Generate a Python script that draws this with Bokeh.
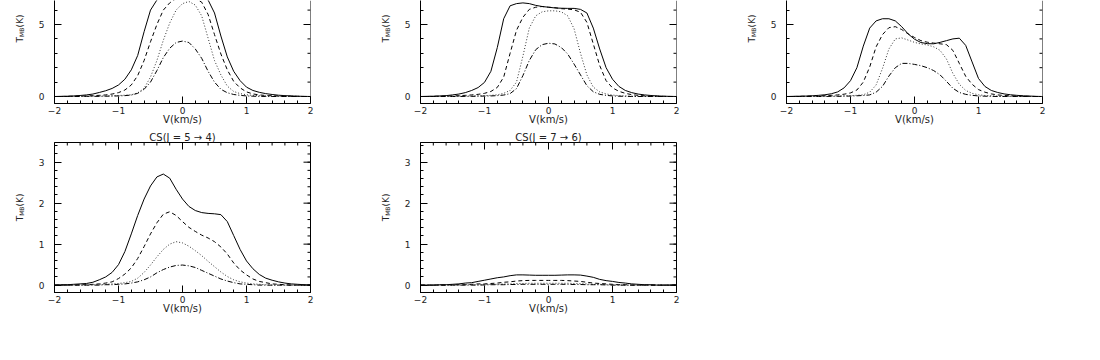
from math import pi
from bokeh.plotting import figure
from bokeh.layouts import column, row
from bokeh.models import FixedTicker, Range1d, Span
from bokeh.core.properties import value
from bokeh.embed import file_html
from bokeh.resources import INLINE

# ---------------- data ----------------
velocity = [-2.0, -1.9, -1.8, -1.7, -1.6, -1.5, -1.4, -1.3, -1.2, -1.1,
            -1.0, -0.9, -0.8, -0.7, -0.6, -0.5, -0.4, -0.3, -0.2, -0.1,
            0.0, 0.1, 0.2, 0.3, 0.4, 0.5, 0.6, 0.7, 0.8, 0.9,
            1.0, 1.1, 1.2, 1.3, 1.4, 1.5, 1.6, 1.7, 1.8, 1.9, 2.0]

# panel 1 (top left)
p1_solid = [0.0, 0.01, 0.02, 0.04, 0.07, 0.11, 0.17, 0.28, 0.4, 0.56,
            0.8, 1.2, 1.85, 2.85, 4.5, 6.0, 6.7, 7.0, 7.15, 7.2,
            7.2, 7.2, 7.15, 7.0, 6.7, 5.8, 4.2, 2.75, 1.75, 1.1,
            0.65, 0.42, 0.29, 0.2, 0.14, 0.09, 0.06, 0.04, 0.02, 0.01, 0.0]
p1_dashed = [0.0, 0.0, 0.01, 0.02, 0.03, 0.04, 0.06, 0.08, 0.11, 0.17,
             0.27, 0.45, 0.8, 1.45, 2.5, 3.8, 5.0, 6.0, 6.5, 6.8,
             6.9, 6.9, 6.8, 6.55, 5.7, 4.3, 2.95, 1.85, 1.05, 0.6,
             0.32, 0.18, 0.11, 0.07, 0.05, 0.04, 0.03, 0.02, 0.01, 0.0, 0.0]
p1_dotted = [0.0, 0.0, 0.0, 0.01, 0.01, 0.02, 0.02, 0.03, 0.04, 0.05,
             0.07, 0.09, 0.12, 0.25, 0.57, 1.35, 2.5, 3.9, 5.1, 6.0,
             6.45, 6.6, 6.35, 5.6, 4.05, 2.5, 1.5, 0.72, 0.35, 0.2,
             0.12, 0.08, 0.06, 0.05, 0.04, 0.03, 0.02, 0.02, 0.01, 0.0, 0.0]
p1_dashdot = [0.0, 0.0, 0.0, 0.0, 0.0, 0.01, 0.01, 0.01, 0.02, 0.03,
              0.04, 0.06, 0.1, 0.22, 0.5, 1.0, 1.8, 2.7, 3.35, 3.75,
              3.85, 3.75, 3.3, 2.65, 1.75, 1.0, 0.5, 0.26, 0.14, 0.08,
              0.04, 0.02, 0.01, 0.0, 0.0, 0.0, 0.0, 0.0, 0.0, 0.0, 0.0]

# panel 2 (top middle)
p2_solid = [0.0, 0.01, 0.02, 0.04, 0.06, 0.11, 0.17, 0.27, 0.42, 0.62,
            0.98, 1.75, 3.4, 5.4, 6.3, 6.45, 6.5, 6.45, 6.33, 6.25,
            6.2, 6.15, 6.13, 6.12, 6.12, 6.05, 5.8, 4.75, 3.3, 2.0,
            1.2, 0.7, 0.42, 0.27, 0.17, 0.11, 0.07, 0.04, 0.02, 0.01, 0.0]
p2_dashed = [0.0, 0.0, 0.01, 0.02, 0.03, 0.04, 0.06, 0.08, 0.11, 0.15,
             0.22, 0.35, 0.63, 1.35, 3.0, 4.6, 5.5, 6.05, 6.2, 6.25,
             6.2, 6.17, 6.1, 6.07, 6.02, 5.85, 5.15, 3.65, 2.15, 1.1,
             0.6, 0.36, 0.22, 0.13, 0.08, 0.05, 0.03, 0.02, 0.01, 0.0, 0.0]
p2_dotted = [0.0, 0.0, 0.0, 0.01, 0.01, 0.02, 0.02, 0.03, 0.04, 0.05,
             0.06, 0.08, 0.12, 0.22, 0.42, 1.0, 2.8, 4.75, 5.6, 5.88,
             5.95, 5.95, 5.88, 5.6, 4.7, 3.0, 1.5, 0.65, 0.32, 0.18,
             0.1, 0.06, 0.04, 0.03, 0.02, 0.02, 0.01, 0.0, 0.0, 0.0, 0.0]
p2_dashdot = [0.0, 0.0, 0.0, 0.0, 0.0, 0.0, 0.0, 0.01, 0.01, 0.02,
              0.03, 0.04, 0.06, 0.1, 0.2, 0.55, 1.45, 2.5, 3.25, 3.6,
              3.7, 3.65, 3.4, 2.95, 2.25, 1.5, 0.75, 0.33, 0.15, 0.08,
              0.04, 0.02, 0.01, 0.0, 0.0, 0.0, 0.0, 0.0, 0.0, 0.0, 0.0]

# panel 3 (top right)
p3_solid = [0.0, 0.01, 0.02, 0.03, 0.05, 0.08, 0.12, 0.19, 0.32, 0.6,
            1.1, 2.0, 3.5, 4.75, 5.25, 5.4, 5.4, 5.25, 4.85, 4.35,
            3.98, 3.75, 3.67, 3.66, 3.76, 3.88, 4.0, 4.05, 3.55, 2.4,
            1.25, 0.7, 0.42, 0.28, 0.18, 0.12, 0.08, 0.05, 0.03, 0.01, 0.0]
p3_dashed = [0.0, 0.0, 0.01, 0.02, 0.03, 0.04, 0.06, 0.08, 0.11, 0.16,
             0.25, 0.45, 1.0, 2.05, 3.45, 4.3, 4.78, 4.85, 4.65, 4.35,
             4.1, 3.88, 3.77, 3.71, 3.66, 3.6, 3.2, 2.3, 1.4, 0.85,
             0.48, 0.3, 0.18, 0.11, 0.07, 0.05, 0.03, 0.02, 0.01, 0.0, 0.0]
p3_dotted = [0.0, 0.0, 0.0, 0.01, 0.01, 0.02, 0.02, 0.03, 0.04, 0.05,
             0.06, 0.08, 0.12, 0.3, 0.8, 1.95, 3.3, 4.0, 4.07, 3.92,
             3.76, 3.65, 3.58, 3.45, 3.2, 2.6, 1.6, 0.85, 0.42, 0.22,
             0.12, 0.07, 0.05, 0.03, 0.02, 0.02, 0.01, 0.0, 0.0, 0.0, 0.0]
p3_dashdot = [0.0, 0.0, 0.0, 0.0, 0.0, 0.0, 0.0, 0.01, 0.01, 0.02,
              0.03, 0.05, 0.07, 0.11, 0.3, 0.7, 1.42, 2.0, 2.3, 2.3,
              2.23, 2.14, 2.0, 1.8, 1.5, 1.05, 0.57, 0.28, 0.15, 0.08,
              0.04, 0.02, 0.01, 0.0, 0.0, 0.0, 0.0, 0.0, 0.0, 0.0, 0.0]

# panel 4 (bottom left) CS(J = 5 -> 4)
p4_solid = [0.0, 0.01, 0.01, 0.02, 0.03, 0.04, 0.07, 0.13, 0.2, 0.31,
            0.5, 0.82, 1.25, 1.7, 2.1, 2.42, 2.64, 2.71, 2.61, 2.34,
            2.1, 1.92, 1.82, 1.77, 1.75, 1.74, 1.72, 1.55, 1.21, 0.87,
            0.59, 0.4, 0.26, 0.17, 0.12, 0.08, 0.05, 0.03, 0.02, 0.01, 0.0]
p4_dashed = [0.0, 0.0, 0.0, 0.0, 0.01, 0.01, 0.02, 0.03, 0.05, 0.08,
             0.16, 0.27, 0.42, 0.65, 0.94, 1.25, 1.52, 1.73, 1.79, 1.7,
             1.55, 1.41, 1.31, 1.22, 1.15, 1.06, 0.93, 0.76, 0.54, 0.37,
             0.25, 0.15, 0.09, 0.06, 0.03, 0.02, 0.01, 0.0, 0.0, 0.0, 0.0]
p4_dotted = [0.0, 0.0, 0.0, 0.0, 0.0, 0.0, 0.01, 0.01, 0.02, 0.03,
             0.04, 0.06, 0.09, 0.17, 0.31, 0.49, 0.69, 0.87, 1.0, 1.06,
             1.03, 0.95, 0.84, 0.72, 0.58, 0.45, 0.32, 0.21, 0.13, 0.08,
             0.05, 0.03, 0.02, 0.01, 0.0, 0.0, 0.0, 0.0, 0.0, 0.0, 0.0]
p4_dashdot = [0.0, 0.0, 0.0, 0.0, 0.0, 0.0, 0.0, 0.0, 0.01, 0.01,
              0.02, 0.03, 0.05, 0.08, 0.13, 0.2, 0.3, 0.38, 0.44, 0.48,
              0.49, 0.47, 0.43, 0.36, 0.29, 0.22, 0.15, 0.1, 0.06, 0.03,
              0.02, 0.01, 0.0, 0.0, 0.0, 0.0, 0.0, 0.0, 0.0, 0.0, 0.0]

# panel 5 (bottom middle) CS(J = 7 -> 6)
p5_solid = [0.0, 0.0, 0.0, 0.01, 0.01, 0.02, 0.03, 0.05, 0.06, 0.09,
            0.12, 0.15, 0.18, 0.2, 0.23, 0.25, 0.25, 0.245, 0.24, 0.24,
            0.24, 0.24, 0.245, 0.25, 0.25, 0.245, 0.22, 0.19, 0.14, 0.11,
            0.09, 0.065, 0.05, 0.03, 0.02, 0.01, 0.01, 0.0, 0.0, 0.0, 0.0]
p5_dashed = [0.0, 0.0, 0.0, 0.0, 0.0, 0.01, 0.01, 0.01, 0.02, 0.03,
             0.03, 0.04, 0.05, 0.07, 0.08, 0.1, 0.11, 0.115, 0.115, 0.115,
             0.115, 0.115, 0.115, 0.11, 0.1, 0.09, 0.07, 0.05, 0.04, 0.03,
             0.02, 0.01, 0.01, 0.0, 0.0, 0.0, 0.0, 0.0, 0.0, 0.0, 0.0]
p5_dotted = [0.0, 0.0, 0.0, 0.0, 0.0, 0.0, 0.0, 0.01, 0.01, 0.01,
             0.01, 0.02, 0.02, 0.03, 0.03, 0.04, 0.04, 0.045, 0.045, 0.045,
             0.045, 0.045, 0.045, 0.045, 0.04, 0.035, 0.03, 0.02, 0.02, 0.01,
             0.01, 0.0, 0.0, 0.0, 0.0, 0.0, 0.0, 0.0, 0.0, 0.0, 0.0]
p5_dashdot = [0.0, 0.0, 0.0, 0.0, 0.0, 0.0, 0.0, 0.0, 0.0, 0.0,
              0.005, 0.01, 0.01, 0.01, 0.015, 0.015, 0.02, 0.02, 0.02, 0.02,
              0.02, 0.02, 0.02, 0.02, 0.015, 0.015, 0.01, 0.01, 0.01, 0.005,
              0.0, 0.0, 0.0, 0.0, 0.0, 0.0, 0.0, 0.0, 0.0, 0.0, 0.0]

panel_titles = [None, None, None, "CS(J = 5 \u2192 4)", "CS(J = 7 \u2192 6)"]
x_ticks = [-2, -1, 0, 1, 2]
x_tick_labels = ["\u22122", "\u22121", "0", "1", "2"]
top_y_ticks = [0, 5, 10]
top_y_labels = ["0", "5", "10"]
bottom_y_ticks = [0, 1, 2, 3]
bottom_y_labels = ["0", "1", "2", "3"]
x_label = "V(km/s)"
y_label_parts = ["T", "MB", "(K)"]   # T with subscript MB, then (K)

# ---------------- styling ----------------
FONT = "DejaVu Sans"
INK = "#222222"
X_MIN, X_MAX = -2.0, 2.0
LAB_W = 28
x_minor = [round(-2 + 0.2 * i, 2) for i in range(21)]
top_minor = list(range(0, 11))
bottom_minor = [round(0.2 * i, 2) for i in range(18)]


def style_axis(ax, ticks, minor, labels):
    ax.ticker = FixedTicker(ticks=ticks, minor_ticks=minor)
    ax.axis_line_color = "black"
    ax.axis_line_width = 1
    ax.major_tick_line_color = "black"
    ax.minor_tick_line_color = "black"
    ax.major_tick_in = 7
    ax.major_tick_out = 0
    ax.minor_tick_in = 3
    ax.minor_tick_out = 0
    ax.major_label_overrides = {t: s for t, s in zip(ticks, labels)}
    ax.major_label_text_font = FONT
    ax.major_label_text_font_size = "9px"
    ax.major_label_text_color = INK


def mirror_ticks(p, side, major, minor, edge):
    """inward ticks on the right / top frame edge"""
    if side == "right":
        p.ray(x=[edge] * len(major), y=major, length=7, length_units="screen",
              angle=pi, line_color="black", line_width=1)
        p.ray(x=[edge] * len(minor), y=minor, length=3, length_units="screen",
              angle=pi, line_color="black", line_width=1)
    else:
        p.ray(x=major, y=[edge] * len(major), length=7, length_units="screen",
              angle=-pi / 2, line_color="black", line_width=1)
        p.ray(x=minor, y=[edge] * len(minor), length=3, length_units="screen",
              angle=-pi / 2, line_color="black", line_width=1)


def row_geometry(top_row):
    if top_row:
        return dict(y_lo=-0.486, y_hi=6.667, frame_h=103, b_top=0, b_bottom=26,
                    yt=top_y_ticks, ym=top_minor, yl=top_y_labels,
                    label_y=[3.75, 4.13, 4.8])
    return dict(y_lo=-0.18, y_hi=3.48, frame_h=150, b_top=13, b_bottom=50,
                yt=bottom_y_ticks, ym=bottom_minor, yl=bottom_y_labels,
                label_y=[1.56, 1.69, 1.92])


def make_ylabel(top_row):
    g = row_geometry(top_row)
    lab = figure(frame_width=LAB_W, frame_height=g["frame_h"],
                 x_range=Range1d(0, LAB_W), y_range=Range1d(g["y_lo"], g["y_hi"]),
                 output_backend="svg", toolbar_location=None,
                 x_axis_location=None, y_axis_location=None,
                 min_border_left=0, min_border_right=0,
                 min_border_top=g["b_top"], min_border_bottom=g["b_bottom"],
                 title_location=None)
    lab.grid.visible = False
    lab.outline_line_color = None
    lab.text(x=[19, 20.5, 19], y=g["label_y"], text=y_label_parts, angle=pi / 2,
             text_font=value(FONT), text_font_size=["9px", "6px", "9px"],
             text_color=INK, text_align="left", text_baseline="alphabetic")
    return lab


def make_panel(series, top_row, title, border_right):
    g = row_geometry(top_row)
    p = figure(frame_width=256, frame_height=g["frame_h"],
               x_range=Range1d(X_MIN, X_MAX), y_range=Range1d(g["y_lo"], g["y_hi"]),
               output_backend="svg", toolbar_location=None,
               min_border_left=54 - LAB_W, min_border_right=border_right,
               min_border_top=g["b_top"], min_border_bottom=g["b_bottom"],
               title=title, title_location=("above" if title else None))
    p.grid.visible = False
    p.background_fill_color = "white"
    p.border_fill_color = "white"
    if top_row:
        p.outline_line_color = None
        p.add_layout(Span(location=X_MAX, dimension="height",
                          line_color="black", line_width=1))
    else:
        p.outline_line_color = "black"
        p.title.text_font = FONT
        p.title.text_font_size = "10px"
        p.title.text_font_style = "normal"
        p.title.text_color = INK
        p.title.align = "center"
        p.title.standoff = 0

    xa = p.xaxis[0]
    style_axis(xa, x_ticks, x_minor, x_tick_labels)
    xa.major_label_standoff = 3
    xa.axis_label = x_label
    xa.axis_label_text_font = FONT
    xa.axis_label_text_font_size = "10px"
    xa.axis_label_text_font_style = "normal"
    xa.axis_label_text_color = INK
    xa.axis_label_standoff = -3

    ya = p.yaxis[0]
    style_axis(ya, g["yt"], g["ym"], g["yl"])
    ya.major_label_standoff = 10

    mirror_ticks(p, "right", g["yt"], g["ym"], X_MAX)
    if not top_row:
        mirror_ticks(p, "top", x_ticks, x_minor, g["y_hi"])

    solid, dashed, dotted, dashdot = series
    p.line(velocity, solid, line_color="black", line_width=1)
    p.line(velocity, dashed, line_color="black", line_width=1, line_dash="4 3")
    p.line(velocity, dotted, line_color="#333333", line_width=1, line_dash="1 2")
    p.line(velocity, dashdot, line_color="black", line_width=1, line_dash="5 2 1 2")
    return p


# panel widths: label (28) + border (26) + frame (256) + right border
f1 = make_panel((p1_solid, p1_dashed, p1_dotted, p1_dashdot), True, panel_titles[0], 56)
f2 = make_panel((p2_solid, p2_dashed, p2_dotted, p2_dashdot), True, panel_titles[1], 56)
f3 = make_panel((p3_solid, p3_dashed, p3_dotted, p3_dashdot), True, panel_titles[2], 50)
f4 = make_panel((p4_solid, p4_dashed, p4_dotted, p4_dashdot), False, panel_titles[3], 56)
f5 = make_panel((p5_solid, p5_dashed, p5_dotted, p5_dashdot), False, panel_titles[4], 56)

layout = column(
    row(make_ylabel(True), f1, make_ylabel(True), f2, make_ylabel(True), f3),
    row(make_ylabel(False), f4, make_ylabel(False), f5),
)
open("out.html", "w").write(file_html(layout, INLINE))
